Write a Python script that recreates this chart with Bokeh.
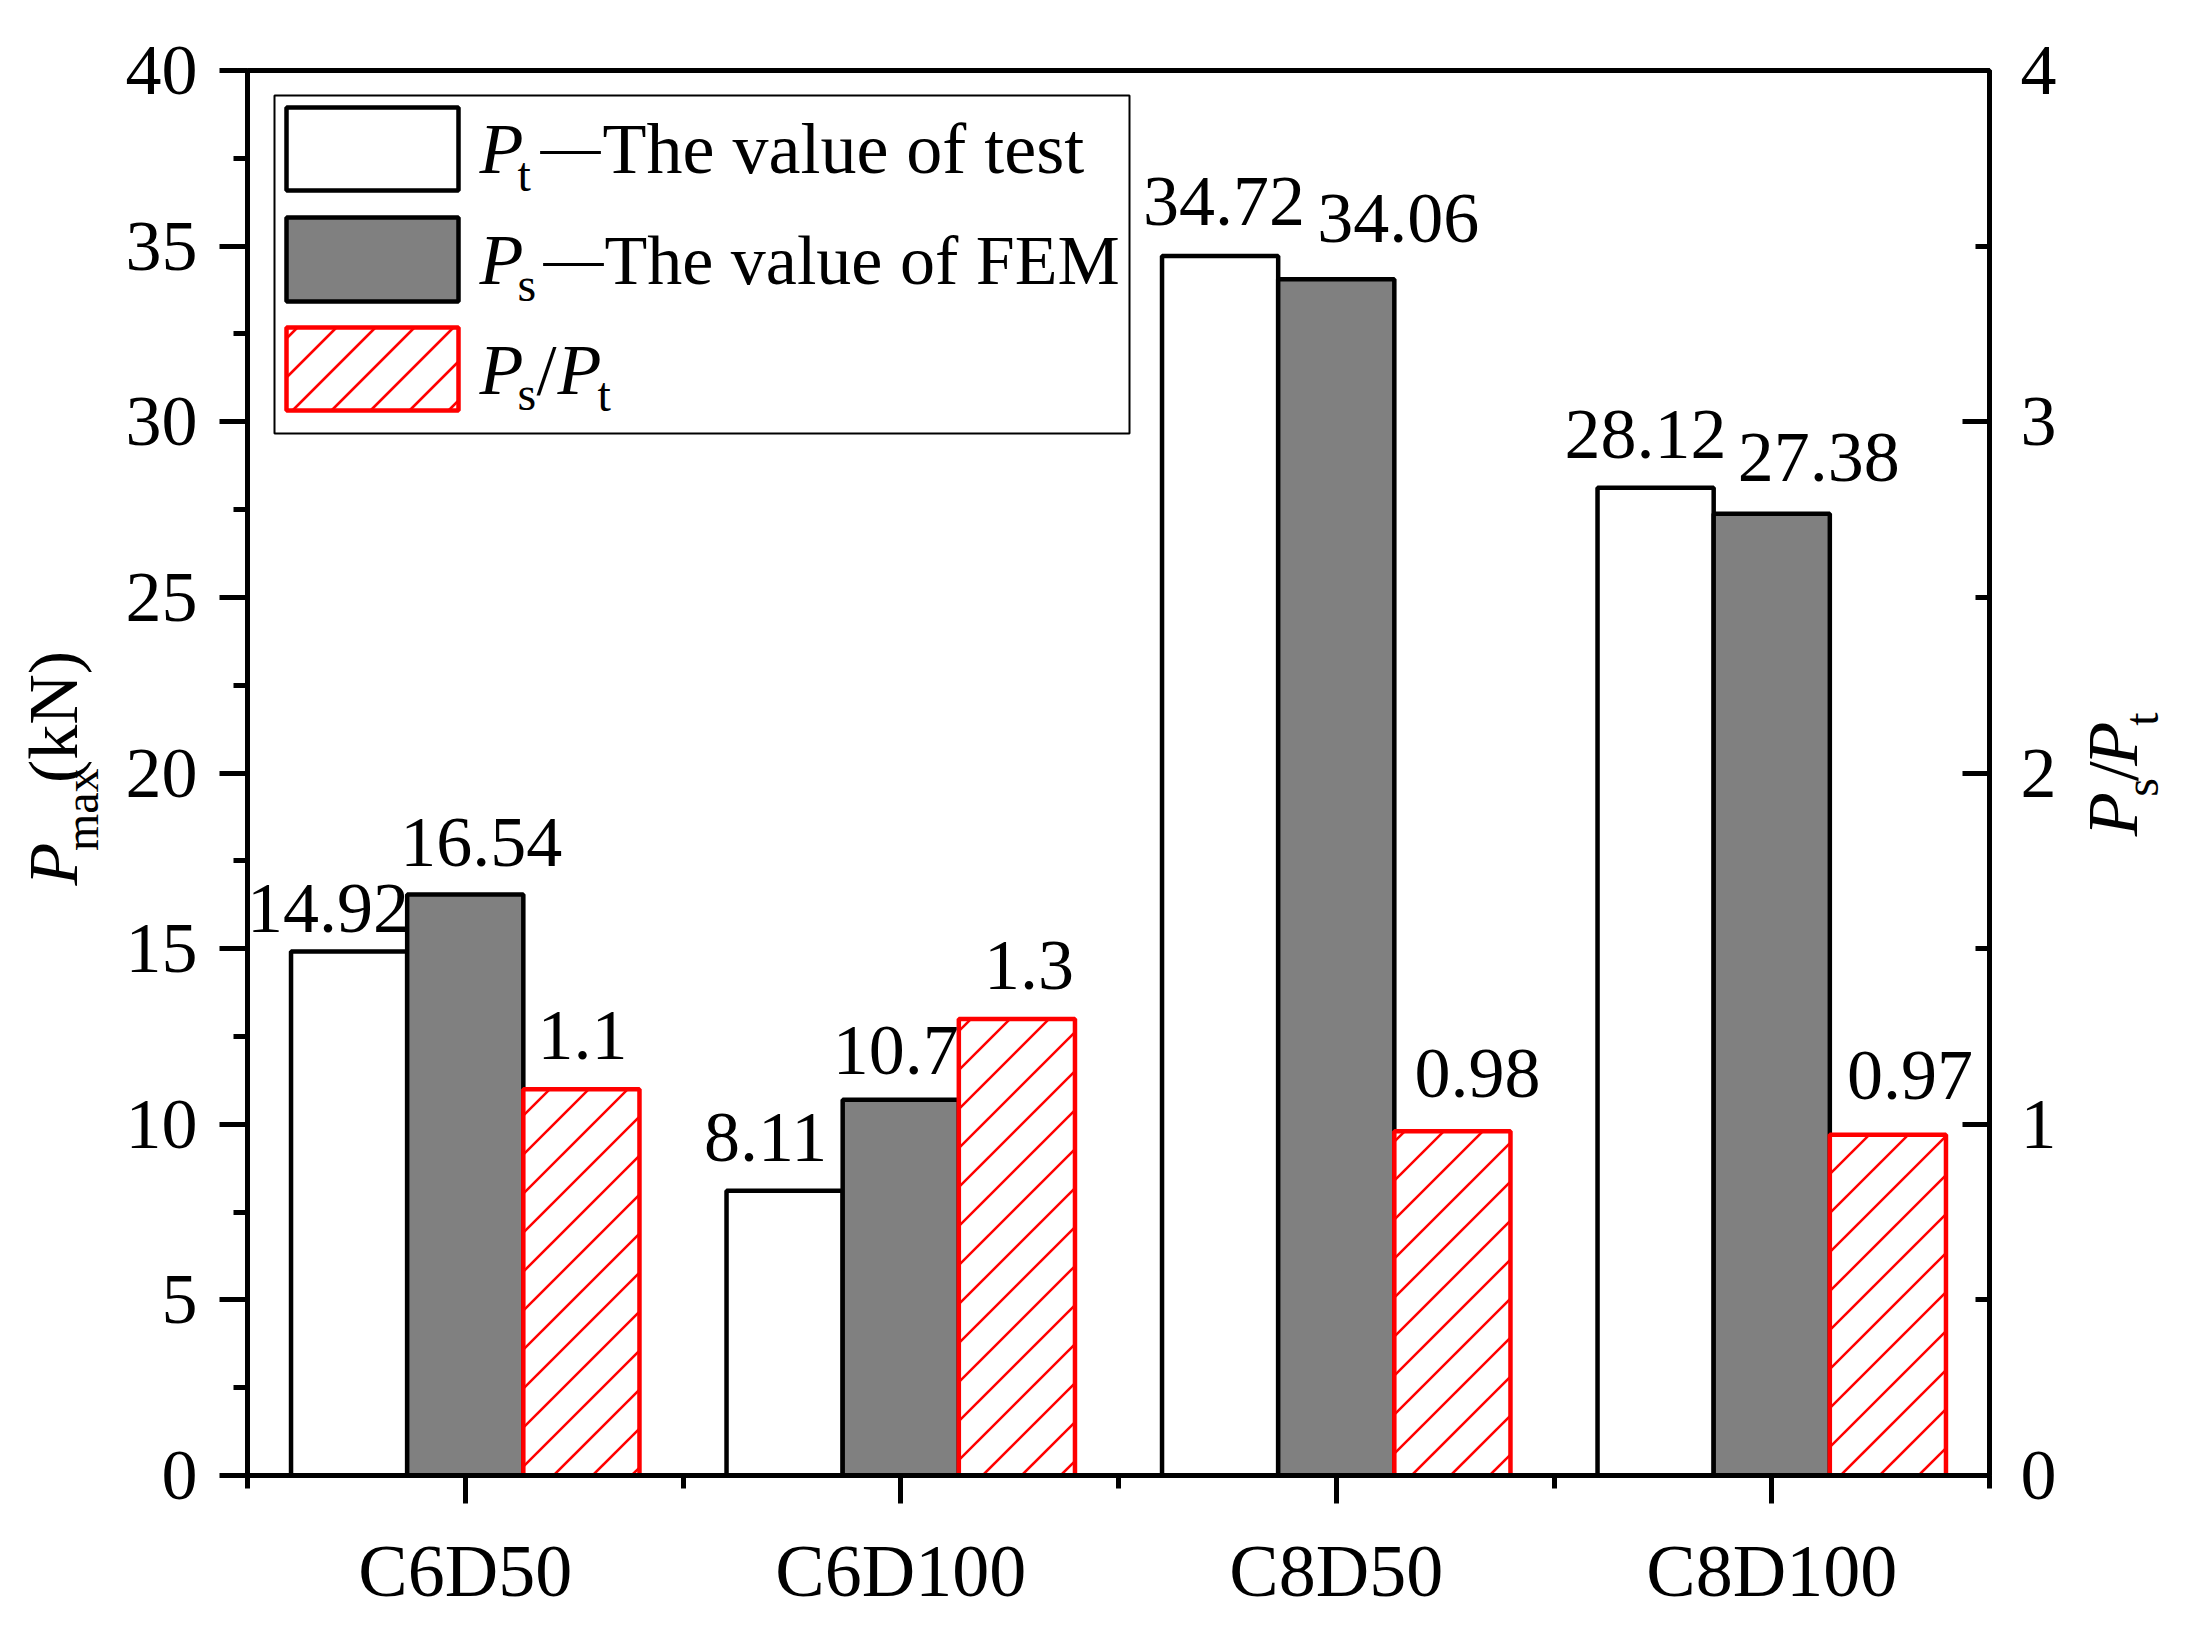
import math
from bokeh.plotting import figure
from bokeh.layouts import row
from bokeh.models import (ColumnDataSource, Range1d, LinearAxis, FixedTicker,
                          Label, BoxAnnotation)
from bokeh.core.properties import value
from bokeh.embed import file_html
from bokeh.resources import INLINE

# ---------------- data ----------------
categories = ["C6D50", "C6D100", "C8D50", "C8D100"]
pt_values = [14.92, 8.11, 34.72, 28.12]      # P_t  test (kN)
ps_values = [16.54, 10.7, 34.06, 27.38]      # P_s  FEM (kN)
ratio_values = [1.1, 1.3, 0.98, 0.97]        # P_s / P_t
left_ticks = [0, 5, 10, 15, 20, 25, 30, 35, 40]
right_ticks = [0, 1, 2, 3, 4]

# ---------------- style / layout ----------------
FONT = "Liberation Serif"
BAR_W = 0.2667
SHIFT = 0.34                    # empirical alphabetic-baseline correction (em)
ROT_DY = 42                     # empirical correction for rotated text (px)
H = 1630
LW = 110                        # left title strip width
MW = 1960                       # main figure width
RW = 125                        # right title strip width
FL, FT, FW, FH = 247, 70, 1742, 1405      # frame left/top/width/height on page
FB = FT + FH
YMAX, RMAX = 40, 4
HATCH_SP = 39                   # hatch line spacing (px, 45 degrees)
HATCH_W = 2.5

# label nudges (screen px) for the value labels, per bar
pt_dx = [-21, -19, 4, -10]
pt_gap = [10, 21, 22, 21]
ps_dx = [16, -5, 62, 47]
ps_gap = [20, 17, 28, 24]
ra_dx = [1, 12, 25, 22]
ra_gap = [21, 21, 25, 27]

xs = [i + 1 for i in range(len(categories))]
VSHIFT = SHIFT * 72 + 8
PXU = FW / len(categories)      # pixels per x unit

p = figure(width=MW, height=H, output_backend="svg", toolbar_location=None,
           x_range=Range1d(0.5, len(categories) + 0.5), y_range=Range1d(0, YMAX),
           min_border_left=FL - LW, min_border_top=FT,
           min_border_right=MW - (FL - LW) - FW, min_border_bottom=H - FT - FH)
p.extra_y_ranges = {"ratio": Range1d(0, RMAX)}
p.xgrid.visible = False
p.ygrid.visible = False
p.background_fill_color = "white"
p.border_fill_color = "white"
p.outline_line_color = "black"
p.outline_line_width = 5

# ---------- 45-degree hatch helper (page px rect -> clipped diagonal segments) ----------
def sx2x(X):
    return 0.5 + (X - FL) / PXU

def sy2y(Y, ymax):
    return (FB - Y) / FH * ymax

def hatch_lines(X0, X1, Yt, Yb, ymax):
    segs = ([], [], [], [])
    c = math.ceil((X0 + Yt) / HATCH_SP) * HATCH_SP
    while c < X1 + Yb:
        xa, xb = max(X0, c - Yb), min(X1, c - Yt)
        if xb > xa:
            segs[0].append(sx2x(xa)); segs[1].append(sy2y(c - xa, ymax))
            segs[2].append(sx2x(xb)); segs[3].append(sy2y(c - xb, ymax))
        c += HATCH_SP
    return segs

# bars
src_pt = ColumnDataSource(dict(x=[x - BAR_W for x in xs], top=pt_values,
                               text=[str(v) for v in pt_values], dx=pt_dx,
                               dy=[-(g + VSHIFT) for g in pt_gap]))
src_ps = ColumnDataSource(dict(x=xs, top=ps_values,
                               text=[str(v) for v in ps_values], dx=ps_dx,
                               dy=[-(g + VSHIFT) for g in ps_gap]))
src_ra = ColumnDataSource(dict(x=[x + BAR_W for x in xs], top=ratio_values,
                               text=[str(v) for v in ratio_values], dx=ra_dx,
                               dy=[-(g + VSHIFT) for g in ra_gap]))

p.vbar(x="x", top="top", bottom=0, width=BAR_W, source=src_pt,
       fill_color="white", line_color="black", line_width=4.5)
p.vbar(x="x", top="top", bottom=0, width=BAR_W, source=src_ps,
       fill_color="#808080", line_color="black", line_width=4.5)
p.vbar(x="x", top="top", bottom=0, width=BAR_W, source=src_ra, y_range_name="ratio",
       fill_color="white", line_color="red", line_width=4.5)

# hatch inside the ratio bars, derived from the bar positions and values
hx0, hy0, hx1, hy1 = [], [], [], []
for xc, v in zip(src_ra.data["x"], ratio_values):
    X0 = FL + (xc - BAR_W / 2 - 0.5) * PXU
    X1 = X0 + BAR_W * PXU
    Yt = FB - v / RMAX * FH
    a, b, c_, d = hatch_lines(X0, X1, Yt, FB, RMAX)
    hx0 += a; hy0 += b; hx1 += c_; hy1 += d
p.segment(x0=hx0, y0=hy0, x1=hx1, y1=hy1, y_range_name="ratio",
          line_color="red", line_width=HATCH_W)

for src, rng in ((src_pt, "default"), (src_ps, "default"), (src_ra, "ratio")):
    p.text(x="x", y="top", text="text", source=src, y_range_name=rng,
           x_offset="dx", y_offset="dy",
           text_font=value(FONT), text_font_size=value("72px"),
           text_align="center", text_baseline="alphabetic", text_color="black")

# axes
def style_axis(ax):
    ax.axis_line_width = 5
    ax.axis_line_color = "black"
    ax.major_tick_line_width = 5
    ax.minor_tick_line_width = 5
    ax.major_tick_line_color = "black"
    ax.minor_tick_line_color = "black"
    ax.major_label_text_font = FONT
    ax.major_label_text_color = "black"
    ax.major_label_text_font_size = "72px"
    ax.axis_label = None

yl = p.yaxis[0]
style_axis(yl)
yl.ticker = FixedTicker(ticks=left_ticks,
                        minor_ticks=[t + 2.5 for t in left_ticks[:-1]])
yl.major_tick_out, yl.major_tick_in = 28, 0
yl.minor_tick_out, yl.minor_tick_in = 14, 0
yl.major_label_standoff = 22

xa = p.xaxis[0]
style_axis(xa)
xa.ticker = FixedTicker(ticks=xs, minor_ticks=[x - 0.5 for x in xs] + [xs[-1] + 0.5])
xa.major_label_overrides = {x: c for x, c in zip(xs, categories)}
xa.major_tick_out, xa.major_tick_in = 28, 0
xa.minor_tick_out, xa.minor_tick_in = 13, 0
xa.major_label_text_font_size = "74px"
xa.major_label_standoff = 26

yr = LinearAxis(y_range_name="ratio")
style_axis(yr)
yr.ticker = FixedTicker(ticks=right_ticks,
                        minor_ticks=[t + 0.5 for t in right_ticks[:-1]])
yr.major_tick_out, yr.major_tick_in = 0, 27
yr.minor_tick_out, yr.minor_tick_in = 0, 14
yr.major_label_standoff = 31
p.add_layout(yr, "right")

# ---------- legend (page-positioned) ----------
def lab(X, Y, text, size=72, style="normal"):
    p.add_layout(Label(x=X - FL, y=FB - (Y - SHIFT * size), x_units="screen", y_units="screen",
                       text=text, text_font=FONT, text_font_size=f"{size}px",
                       text_font_style=style, text_color="black",
                       text_align="left", text_baseline="alphabetic"))

p.add_layout(BoxAnnotation(left=274 - FL, right=1129 - FL, top=FB - 95, bottom=FB - 433,
                           left_units="screen", right_units="screen",
                           top_units="screen", bottom_units="screen", level="underlay",
                           fill_color="white", fill_alpha=1.0,
                           line_color="black", line_alpha=1.0, line_width=2))

leg_rows = [(107, 190), (217, 301), (327, 410)]
LX0, LX1 = 286, 458
leg = ColumnDataSource(dict(
    left=[sx2x(LX0)] * 3, right=[sx2x(LX1)] * 3,
    top=[sy2y(t, YMAX) for t, b in leg_rows], bottom=[sy2y(b, YMAX) for t, b in leg_rows],
    fill=["white", "#808080", "white"], line=["black", "black", "red"]))
p.quad(left="left", right="right", top="top", bottom="bottom", source=leg,
       fill_color="fill", line_color="line", line_width=4.5)
lx0, ly0, lx1, ly1 = hatch_lines(LX0, LX1, leg_rows[2][0], leg_rows[2][1], YMAX)
p.segment(x0=lx0, y0=ly0, x1=lx1, y1=ly1, line_color="red", line_width=HATCH_W)

lab(479, 173, "P", 72, "italic")
lab(517, 190, "t", 48)
lab(540, 166, "—", 60)
lab(602, 173, "The value of test", 72)

lab(479, 284, "P", 72, "italic")
lab(517, 300, "s", 48)
lab(543, 278, "—", 60)
lab(604, 284, "The value of FEM", 70)

lab(479, 394, "P", 72, "italic")
lab(517, 409, "s", 48)
lab(536, 394, "/", 72)
lab(557, 394, "P", 72, "italic")
lab(597, 410, "t", 48)

# ---------- axis titles in side strips (pixel coordinates of each strip) ----------
ROT = math.pi / 2

def strip(width):
    s = figure(width=width, height=H, output_backend="svg", toolbar_location=None,
               x_range=Range1d(0, width), y_range=Range1d(H, 0),
               x_axis_type=None, y_axis_type=None,
               min_border_left=0, min_border_right=0, min_border_top=0, min_border_bottom=0)
    s.outline_line_color = None
    s.background_fill_color = "white"
    s.border_fill_color = "white"
    return s

def rtext(s, Xbase, Ystart, text, size, em_width, style="normal"):
    # centred placement: rotated text reads upward from Ystart, baseline at Xbase
    cx = Xbase - SHIFT * size
    cy = Ystart - em_width * size / 2 + ROT_DY
    s.text(x=[cx], y=[cy], text=[text], angle=ROT,
           text_font=value(FONT), text_font_size=value(f"{size}px"),
           text_font_style=value(style), text_color="black",
           text_align="center", text_baseline="middle")

left = strip(LW)
rtext(left, 77, 900, "P", 70, 0.611, "italic")
rtext(left, 97, 857, "max", 48, 1.722)
rtext(left, 77, 774, "(kN)", 70, 1.888)

RX0 = LW + MW
right = strip(RW)
rtext(right, 2137 - RX0, 843, "P", 72, 0.611, "italic")
rtext(right, 2157 - RX0, 799, "s", 48, 0.389)
rtext(right, 2137 - RX0, 781, "/", 72, 0.278)
rtext(right, 2137 - RX0, 761, "P", 72, 0.611, "italic")
rtext(right, 2157 - RX0, 717, "t", 48, 0.278)

layout = row(left, p, right, spacing=0)
open("out.html", "w").write(file_html(layout, INLINE))
